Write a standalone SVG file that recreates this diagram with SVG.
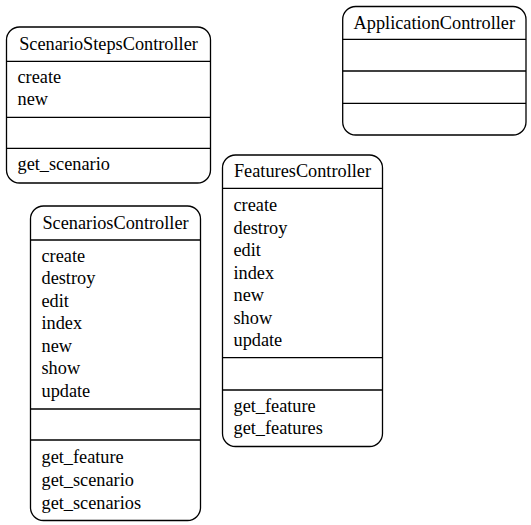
<svg xmlns="http://www.w3.org/2000/svg" width="531" height="525" viewBox="0 0 531 525">
<style>
.box{fill:#fff;stroke:#000;stroke-width:1.3}
.div{stroke:#000;stroke-width:1.3}
text{font-family:"Liberation Serif","Times New Roman",serif;font-size:18.3px;fill:#000}
.t{text-anchor:middle}
</style>
<rect width="531" height="525" fill="#fff"/>
<g id="ScenarioStepsController">
<rect class="box" x="6.5" y="27" width="204" height="156" rx="13"/>
<line class="div" x1="6.5" y1="61.3" x2="210.5" y2="61.3"/>
<line class="div" x1="6.5" y1="117.3" x2="210.5" y2="117.3"/>
<line class="div" x1="6.5" y1="148.3" x2="210.5" y2="148.3"/>
<text class="t" x="108.5" y="50">ScenarioStepsController</text>
<text x="17.5" y="82.5">create</text>
<text x="17.5" y="105">new</text>
<text x="17.5" y="170">get_scenario</text>
</g>
<g id="ApplicationController">
<rect class="box" x="342.7" y="6.5" width="183.3" height="128.5" rx="13"/>
<line class="div" x1="342.7" y1="39.3" x2="526" y2="39.3"/>
<line class="div" x1="342.7" y1="71" x2="526" y2="71"/>
<line class="div" x1="342.7" y1="103.3" x2="526" y2="103.3"/>
<text class="t" x="434.3" y="28.5">ApplicationController</text>
</g>
<g id="FeaturesController">
<rect class="box" x="222.5" y="155" width="160" height="291.5" rx="13"/>
<line class="div" x1="222.5" y1="188.3" x2="382.5" y2="188.3"/>
<line class="div" x1="222.5" y1="357.7" x2="382.5" y2="357.7"/>
<line class="div" x1="222.5" y1="390" x2="382.5" y2="390"/>
<text class="t" x="302.5" y="177">FeaturesController</text>
<text x="233.5" y="211">create</text>
<text x="233.5" y="233.5">destroy</text>
<text x="233.5" y="256">edit</text>
<text x="233.5" y="278.5">index</text>
<text x="233.5" y="301">new</text>
<text x="233.5" y="323.5">show</text>
<text x="233.5" y="346">update</text>
<text x="233.5" y="411.7">get_feature</text>
<text x="233.5" y="434.3">get_features</text>
</g>
<g id="ScenariosController">
<rect class="box" x="30.5" y="206" width="170" height="314.5" rx="13"/>
<line class="div" x1="30.5" y1="240" x2="200.5" y2="240"/>
<line class="div" x1="30.5" y1="409" x2="200.5" y2="409"/>
<line class="div" x1="30.5" y1="440" x2="200.5" y2="440"/>
<text class="t" x="115.5" y="228.5">ScenariosController</text>
<text x="41.5" y="261.5">create</text>
<text x="41.5" y="284">destroy</text>
<text x="41.5" y="306.5">edit</text>
<text x="41.5" y="329">index</text>
<text x="41.5" y="351.5">new</text>
<text x="41.5" y="374">show</text>
<text x="41.5" y="396.5">update</text>
<text x="41.5" y="463.3">get_feature</text>
<text x="41.5" y="486">get_scenario</text>
<text x="41.5" y="508.5">get_scenarios</text>
</g>
<g id="connectors"></g>
</svg>
